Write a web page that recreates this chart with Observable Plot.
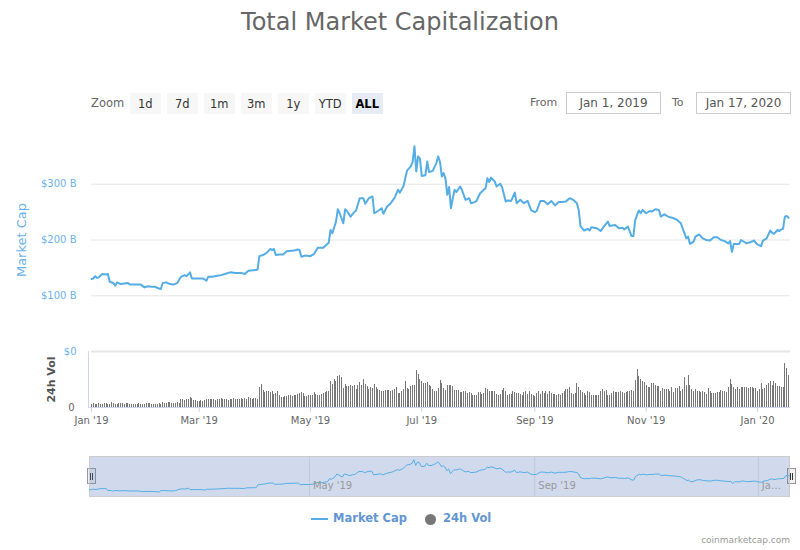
<!DOCTYPE html>
<html>
<head>
<meta charset="utf-8">
<script src="https://cdn.jsdelivr.net/npm/d3@7"></script>
<script src="https://cdn.jsdelivr.net/npm/@observablehq/plot@0.6"></script>
<style>
  body { margin: 0; background: #fff; }
  #root { position: relative; width: 800px; height: 550px; overflow: hidden; font-family: "DejaVu Sans", sans-serif; background: #fff; }
  .abs { position: absolute; white-space: nowrap; }
  .btn { position: absolute; top: 93px; width: 31.5px; height: 21px; background: #f7f7f7; color: #333; font-size: 11.5px; display: flex; align-items: center; justify-content: center; }
  .btn.sel { background: #e6ebf5; color: #000; font-weight: bold; }
  .inp { position: absolute; top: 92px; height: 20px; border: 1px solid #ccc; color: #555; font-size: 12px; display: flex; align-items: center; justify-content: center; box-sizing: content-box; }
  .handle { position: absolute; top: 468px; width: 7px; height: 14px; background: #f2f2f2; border: 1px solid #999; }
  .handle::before, .handle::after { content: ""; position: absolute; top: 4px; width: 1px; height: 7px; background: #333; }
  .handle::before { left: 2px; } .handle::after { left: 4px; }
</style>
</head>
<body>
<div id="root">
  <div class="abs" style="left:0;top:8px;width:800px;text-align:center;font-size:24px;line-height:28px;color:#666">Total Market Capitalization</div>
  <div class="abs" style="left:91px;top:96px;font-size:11.5px;color:#666">Zoom</div>
  <div id="buttons"></div>
  <div class="abs" style="left:530px;top:96px;font-size:11px;color:#666">From</div>
  <div class="inp" style="left:566px;width:93px">Jan 1, 2019</div>
  <div class="abs" style="left:672px;top:96px;font-size:11px;color:#666">To</div>
  <div class="inp" style="left:696px;width:93px">Jan 17, 2020</div>
  <div class="handle" style="left:86.5px"></div>
  <div class="handle" style="left:786.5px"></div>
  <div class="abs" style="left:311px;top:518px;width:17px;height:2px;background:#55ade6"></div>
  <div class="abs" style="left:333px;top:511px;font-size:11.5px;font-weight:bold;color:#6296d2">Market Cap</div>
  <div class="abs" style="left:424.5px;top:513.5px;width:11px;height:11px;border-radius:50%;background:#777"></div>
  <div class="abs" style="left:443px;top:511px;font-size:11.5px;font-weight:bold;color:#6296d2">24h Vol</div>
  <div class="abs" style="right:10px;top:535px;font-size:9px;color:#999">coinmarketcap.com</div>
</div>
<script>
// ---------- data ----------
const startDate = "2019-01-01";
const endDate = "2020-01-18";
const zoomButtons = ["1d", "7d", "1m", "3m", "1y", "YTD", "ALL"];

// market cap: day offset from startDate, value in $ billions
const mcDay = [
  0,1,2,3,4,6,8,9,10,12,
  13,14,16,18,20,21,24,27,29,31,
  33,35,37,38,39,41,43,45,47,49,
  51,52,54,55,58,61,63,64,66,69,
  71,74,76,79,82,84,86,90,91,92,
  94,96,98,99,100,101,103,105,107,111,
  113,114,115,117,120,122,124,127,130,131,
  132,134,135,136,138,139,140,142,144,145,
  147,149,150,152,154,155,157,159,160,162,
  164,166,168,169,171,173,175,176,177,178,
  179,180,181,183,184,185,187,189,190,191,
  192,193,194,195,196,197,198,199,200,202,
  203,205,207,208,210,211,213,215,216,217,
  218,219,221,222,224,225,227,228,230,232,
  233,235,237,239,241,243,244,246,248,250,
  252,254,256,258,260,262,264,266,267,268,
  269,270,272,273,274,277,279,281,283,284,
  287,289,291,292,294,296,297,298,300,301,
  302,304,306,307,309,311,312,314,316,319,
  321,323,324,326,327,328,330,331,333,335,
  337,339,341,343,345,347,349,350,351,352,
  355,356,358,359,361,363,365,367,368,370,
  372,373,374,376,377,378,379,380,381,382
];
const mcValue = [
  130,131,135,132,133,139,138,139,125,123,
  118,124,121,122,123,120,120,120,115,117,
  116,116,113,112,123,124,121,120,123,134,
  137,135,142,131,131,131,127,134,134,136,
  137,140,142,141,141,139,145,146,147,171,
  173,177,184,182,184,173,174,174,180,181,
  183,182,170,172,171,175,186,186,195,218,
  212,233,255,248,230,255,252,242,250,253,
  275,275,265,275,278,248,252,257,247,260,
  266,275,290,285,297,325,332,340,368,323,
  350,346,315,316,341,322,324,338,350,340,
  314,320,310,281,295,257,275,290,286,296,
  290,272,275,266,268,270,284,290,293,311,
  304,312,305,296,301,295,269,271,270,285,
  266,272,266,270,253,250,252,270,270,264,
  270,262,268,268,269,275,272,266,254,225,
  221,217,220,217,223,221,216,225,233,225,
  227,221,222,219,224,207,207,236,253,248,
  254,248,252,251,255,254,242,246,242,239,
  236,230,221,203,206,193,197,206,210,203,
  200,199,205,205,200,198,194,198,179,193,
  193,200,196,194,196,199,192,189,199,203,
  217,213,211,218,216,219,220,242,243,240
];

// 24h volume, one value per day from startDate, $ billions
const volValue = [
  16,19,15,14,20,16,15,19,21,15, 14,24,19,15,16,19,20,18,15,19,
  21,16,15,14,15,16,19,15,14,16, 20,19,21,15,14,16,15,19,16,
  26,21,22,25,27,21,22,21,26,22,
  40,41,36,40,42,50,45,
  36,35,31,30,35,32,36,40,
  41,40,42,39,36,40,41,45,40,42,39,36,41,40,46,41,39,42,45,40,46,41,
  50,46,41,45,44,40,
  100,115,86,76,80,
  80,76,81,66,
  70,80,61,50,
  51,55,56,60,61,
  56,60,61,66,70,
  75,70,56,55,60,
  61,60,75,66,61,
  60,66,70,75,80,81,
  130,116,141,130,156,
  161,150,96,116,105,
  106,110,105,111,90,
  110,125,111,141,115,
  105,90,100,96,116,
  100,91,85,80,81,
  86,85,84,80,86,
  90,100,70,71,80,
  90,131,95,90,106,
  110,111,186,165,140,
  130,120,121,125,110,
  105,90,80,81,95,
  136,120,95,86,110,
  111,110,105,86,85,
  85,75,76,80,81,
  70,75,71,60,61,
  60,75,76,65,70,
  96,90,80,81,80,
  80,66,60,65,85,
  96,80,60,66,65,
  80,75,70,71,65,
  60,75,80,66,80,
  65,60,55,70,80,
  66,80,70,81,65,
  80,70,66,65,60,
  66,60,70,80,90,
  91,100,70,66,70,
  121,100,85,75,70,
  60,80,75,61,60,
  60,61,60,80,90,
  80,85,60,61,70,
  80,75,76,75,80,
  75,70,75,80,81,
  85,80,136,190,155,
  140,130,125,110,100,
  101,120,121,110,105,
  106,80,95,90,91,
  90,80,100,75,95,
  96,106,80,90,150,
  110,160,110,90,80,
  90,80,81,75,80,
  75,65,96,80,70,
  70,71,75,76,85,
  80,81,75,100,140,
  115,100,90,101,90,
  100,101,100,99,95,
  100,101,96,95,80,
  90,120,90,95,110,
  120,130,110,131,120,
  105,106,100,101,220,196,160
];

const mcTicks = [0, 100, 200, 300];
const xTickDates = ["2019-01-01","2019-03-01","2019-05-01","2019-07-01","2019-09-01","2019-11-01","2020-01-01"];
const xTickLabels = ["Jan '19","Mar '19","May '19","Jul '19","Sep '19","Nov '19","Jan '20"];
const navTickDates = ["2019-05-01","2019-09-01","2020-01-01"];
const navTickLabels = ["May '19","Sep '19","Ja…"];

// ---------- build ----------
const DAY = 864e5;
const x0 = new Date(startDate + "T00:00:00Z");
const x1 = new Date(endDate + "T00:00:00Z");
const mc = mcDay.map((d, i) => ({date: new Date(+x0 + d * DAY), value: mcValue[i]}));
const vol = volValue.map((v, i) => ({date: new Date(+x0 + i * DAY), vol: v}));
const xTicks = xTickDates.map(s => new Date(s + "T00:00:00Z"));
const labelMap = new Map(xTicks.map((d, i) => [+d, xTickLabels[i]]));
const navTicks = navTickDates.map((s, i) => ({date: new Date(s + "T00:00:00Z"), label: navTickLabels[i]}));

const lineColor = "#55ade6";
const labelBlue = "#6cb2ea";
const root = document.getElementById("root");
const btns = document.getElementById("buttons");
zoomButtons.forEach((b, i) => {
  const el = document.createElement("div");
  el.className = "btn" + (b === "ALL" ? " sel" : "");
  el.style.left = (129.5 + i * 37) + "px";
  el.textContent = b;
  btns.appendChild(el);
});

function place(node, top) {
  node.style.position = "absolute";
  node.style.left = "0px";
  node.style.top = top + "px";
  root.appendChild(node);
}
const baseStyle = {background: "none", fontFamily: "DejaVu Sans", fontSize: "10px", overflow: "visible"};

// Market cap pane
place(Plot.plot({
  width: 800, height: 240,
  marginLeft: 91, marginRight: 12, marginTop: 8, marginBottom: 9,
  style: {...baseStyle, color: labelBlue},
  x: {type: "utc", domain: [x0, x1], axis: null},
  y: {domain: [0, 400], ticks: mcTicks, tickFormat: d => d === 0 ? "$0" : `$${d} B`, tickSize: 0, tickPadding: 15, label: null},
  marks: [
    Plot.ruleY(mcTicks.filter(d => d > 0), {stroke: "#e6e6e6", insetRight: -2}),
    Plot.ruleY([0], {stroke: "#e6e6e6", strokeWidth: 2, insetRight: -2}),
    Plot.text(["Market Cap"], {text: d => d, frameAnchor: "left", textAnchor: "middle", dx: -69.5, rotate: -90, fill: labelBlue, fontSize: 13}),
    Plot.line(mc, {x: "date", y: "value", stroke: lineColor, strokeWidth: 2, strokeLinejoin: "round"})
  ]
}), 120);

// Volume pane
place(Plot.plot({
  width: 800, height: 90,
  marginLeft: 91, marginRight: 12, marginTop: 6, marginBottom: 28,
  style: {...baseStyle, color: "#666"},
  x: {type: "utc", domain: [x0, x1], ticks: xTicks, tickFormat: d => labelMap.get(+d), tickSize: 0, tickPadding: 9, label: null},
  y: {domain: [0, 280], ticks: [0], tickFormat: d => "0", tickSize: 0, tickPadding: 17, label: null},
  marks: [
    Plot.ruleX(vol, {x: "date", y: "vol", stroke: "#777", strokeWidth: 1, shapeRendering: "crispEdges"}),
    Plot.ruleY([0], {stroke: "#ccd6eb", insetLeft: -3, insetRight: -2}),
    Plot.ruleX(xTicks, {stroke: "#ccd6eb", insetTop: 56, insetBottom: -5}),
    Plot.ruleX([x0], {stroke: "#ccd6eb", dx: -3}),
    Plot.text(["24h Vol"], {text: d => d, frameAnchor: "left", textAnchor: "middle", dx: -40.5, rotate: -90, fill: "#555", fontWeight: "bold", fontSize: 11})
  ]
}), 345);

// Navigator
place(Plot.plot({
  width: 800, height: 50,
  marginLeft: 89, marginRight: 11, marginTop: 6, marginBottom: 4,
  style: {...baseStyle, color: "#999"},
  x: {type: "utc", domain: [x0, x1], axis: null},
  y: {domain: [100, 390], range: [43, 6.5], axis: null},
  marks: [
    Plot.ruleX(navTicks, {x: "date", stroke: "#e6e6e6"}),
    Plot.frame({fill: "rgb(102,133,194)", fillOpacity: 0.3, stroke: "#ccc"}),
    Plot.line(mc, {x: "date", y: "value", stroke: lineColor, strokeWidth: 1}),
    Plot.text(navTicks, {x: "date", text: "label", frameAnchor: "bottom", dy: -8, dx: 3.5, textAnchor: "start", fill: "#999", fontSize: 10})
  ]
}), 450);
</script>
</body>
</html>
